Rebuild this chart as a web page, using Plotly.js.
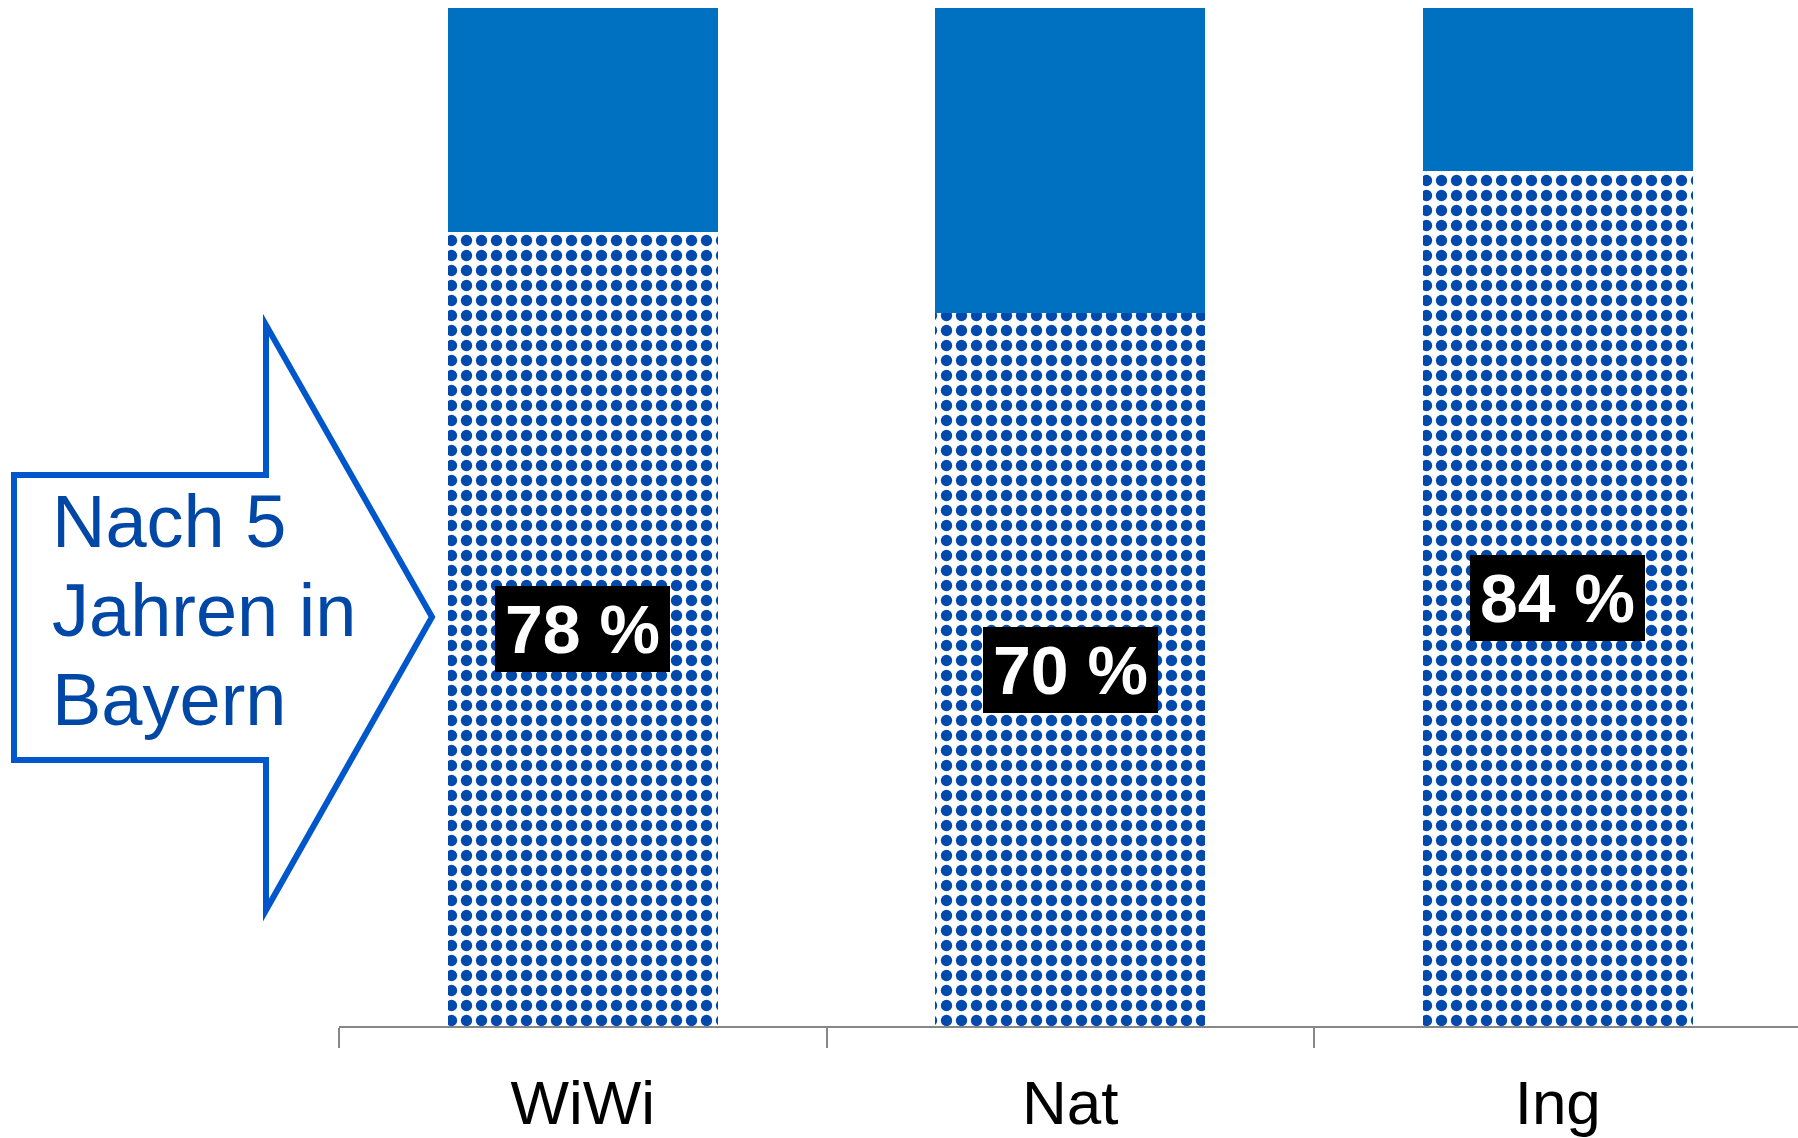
<!DOCTYPE html>
<html>
<head>
<meta charset="utf-8">
<script src="https://cdn.plot.ly/plotly-3.0.1.min.js"></script>
<style>
  html, body { margin: 0; padding: 0; background: #ffffff; }
  #chart { width: 1798px; height: 1138px; }
</style>
</head>
<body>
<div id="chart"></div>
<script>
// ---- data ----
const categories = ["WiWi", "Nat", "Ing"];
const stayBayern = [78, 70, 84];     // patterned part (% after 5 years in Bavaria)
const leftBayern = [22, 30, 16];     // solid top part
const arrowLines = ["Nach 5", "Jahren in", "Bayern"];

// ---- layout helpers (pixel -> paper) ----
const W = 1798, H = 1138;
const M = { l: 339, r: 0, t: 8, b: 112 };
const PW = W - M.l - M.r, PH = H - M.t - M.b;
const px = x => (x - M.l) / PW;
const py = y => (H - M.b - y) / PH;

const patternBlue = "#0049AD";
const solidBlue = "#0070C0";

const traces = [
  {
    type: "bar",
    x: categories,
    y: stayBayern,
    width: 0.554,
    marker: {
      color: patternBlue,
      line: { width: 0 },
      pattern: { shape: ".", fillmode: "replace", fgcolor: patternBlue, bgcolor: "#ffffff", size: 15, solidity: 0.45 }
    },
    hoverinfo: "skip",
    showlegend: false
  },
  {
    type: "bar",
    x: categories,
    y: leftBayern,
    width: 0.554,
    marker: { color: solidBlue, line: { width: 0 } },
    hoverinfo: "skip",
    showlegend: false
  }
];

// value labels (black boxes) centred in the patterned part
const annotations = categories.map((c, i) => ({
  x: c, y: stayBayern[i] / 2, xref: "x", yref: "y",
  text: "<b>" + stayBayern[i] + " %</b>",
  showarrow: false,
  font: { family: "Liberation Sans, Arial, sans-serif", size: 68, color: "#ffffff" },
  bgcolor: "#000000",
  borderpad: 0, borderwidth: 0,
  width: 175, height: 86,
  align: "center", valign: "middle",
  xanchor: "center", yanchor: "middle"
}));

// arrow text
const lineCentersPx = [521, 610, 699];
arrowLines.forEach((t, i) => {
  annotations.push({
    x: px(50), y: py(lineCentersPx[i]), xref: "paper", yref: "paper",
    text: t, showarrow: false,
    xanchor: "left", yanchor: "middle",
    font: { family: "Liberation Sans, Arial, sans-serif", size: 74, color: "#0047A6" }
  });
});

// arrow outline
const pts = [[14, 475], [266, 475], [266, 325], [432, 617], [266, 910], [266, 760], [14, 760]];
const path = "M " + pts.map(p => px(p[0]).toFixed(5) + "," + py(p[1]).toFixed(5)).join(" L ") + " Z";

const layout = {
  width: W, height: H,
  margin: M,
  paper_bgcolor: "#ffffff",
  plot_bgcolor: "#ffffff",
  barmode: "stack",
  showlegend: false,
  xaxis: {
    type: "category",
    range: [-0.5, -0.5 + PW / 487.5],
    showgrid: false, zeroline: false,
    showline: true, linecolor: "#878787", linewidth: 2,
    ticks: "outside", tickson: "boundaries", ticklen: 20, tickwidth: 2, tickcolor: "#878787",
    ticklabelstandoff: 22,
    tickfont: { family: "Liberation Sans, Arial, sans-serif", size: 62, color: "#000000" },
    fixedrange: true
  },
  yaxis: {
    range: [0, 100],
    visible: false,
    showgrid: false, zeroline: false,
    fixedrange: true
  },
  shapes: [{
    type: "path", xref: "paper", yref: "paper",
    path: path,
    line: { color: "#0057CC", width: 6 },
    fillcolor: "rgba(255,255,255,0)",
    layer: "above"
  }],
  annotations: annotations
};

Plotly.newPlot("chart", traces, layout, { displayModeBar: false, staticPlot: true });
</script>
</body>
</html>
